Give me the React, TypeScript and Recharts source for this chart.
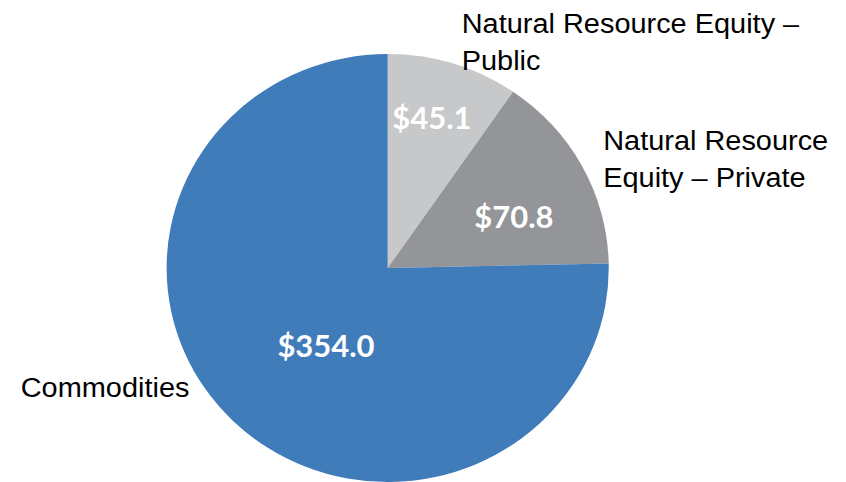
import { PieChart, Pie, Cell } from 'recharts'

// slices, clockwise from 12 o'clock
const names = ['Natural Resource Equity – Public', 'Natural Resource Equity – Private', 'Commodities']
const values = [45.1, 70.8, 354.0]
const valueLabels = ['$45.1', '$70.8', '$354.0']
const nameLines = [
  ['Natural Resource Equity –', 'Public'],
  ['Natural Resource', 'Equity – Private'],
  ['Commodities'],
]
const colors = ['#C7C8CA', '#939598', '#417CBA']

// label placement, as fractions of the outer radius from the centre
const valuePos = [[0.2, -0.705], [0.571, -0.243], [-0.279, 0.36]]
const namePos = [[0.335, -1.097], [0.975, -0.551], [-1.66, 0.603]]

const data = names.map((name, i) => ({ name, value: values[i] }))

const STRETCH = 1.033
const W = 846 / STRETCH
const H = 482

function renderLabel(props: any) {
  const { cx, cy, outerRadius, index } = props
  const [vx, vy] = valuePos[index]
  const [nx, ny] = namePos[index]
  return (
    <g>
      <text x={cx + vx * outerRadius} y={cy + vy * outerRadius} textAnchor="middle" dominantBaseline="central"
        fill="#ffffff" fontFamily="Lato, 'Open Sans', sans-serif" fontWeight={700} fontSize={30}>
        {valueLabels[index]}
      </text>
      <text x={cx + nx * outerRadius} y={cy + ny * outerRadius} fill="#000000"
        fontFamily="'Liberation Sans', Arial, sans-serif" fontSize={28}>
        {nameLines[index].map((line, j) => (
          <tspan key={j} x={cx + nx * outerRadius} dy={j === 0 ? 0 : 36.5}>{line}</tspan>
        ))}
      </text>
    </g>
  )
}

export default function App() {
  return (
    <div style={{ position: 'fixed', left: 0, top: 0, width: 846, height: 482, overflow: 'hidden', background: '#fff' }}>
      <div style={{ width: W, height: H, transform: `scaleX(${STRETCH})`, transformOrigin: '0 0' }}>
        <PieChart width={W} height={H} margin={{ top: 0, right: 0, bottom: 0, left: 0 }}>
          <Pie data={data} dataKey="value" nameKey="name" cx={375.3} cy={268} outerRadius={214}
            startAngle={90} endAngle={-270} stroke="none" label={renderLabel} labelLine={false}
            isAnimationActive={false}>
            {data.map((d, i) => <Cell key={d.name} fill={colors[i]} />)}
          </Pie>
        </PieChart>
      </div>
    </div>
  )
}
